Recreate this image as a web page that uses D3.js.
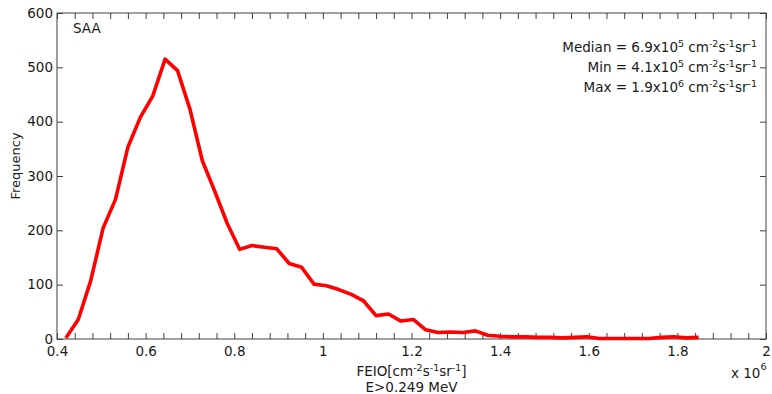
<!DOCTYPE html>
<html>
<head>
<meta charset="utf-8">
<script src="https://cdn.jsdelivr.net/npm/d3@7"></script>
<style>
  html, body { margin: 0; padding: 0; background: #fff; }
  svg text { font-family: "DejaVu Sans", "Liberation Sans", Arial, sans-serif; fill: #1a1a1a; }
</style>
</head>
<body>
<div id="chart"></div>
<script>
"use strict";

// ---------------------------------------------------------------------------
// Data (FEIO in units of 10^6, frequency counts)
// ---------------------------------------------------------------------------

const feio = [
  0.420, 0.448, 0.476, 0.504, 0.532, 0.560, 0.588, 0.616, 0.644, 0.672,
  0.700, 0.728, 0.756, 0.784, 0.812, 0.840, 0.868, 0.896, 0.924, 0.952,
  0.980, 1.008, 1.036, 1.064, 1.092, 1.120, 1.148, 1.176, 1.204, 1.232,
  1.260, 1.288, 1.316, 1.344, 1.372, 1.400, 1.428, 1.456, 1.484, 1.512,
  1.540, 1.568, 1.596, 1.624, 1.652, 1.680, 1.708, 1.736, 1.764, 1.792,
  1.820, 1.848
];

const frequency = [
  2, 36, 107, 204, 257, 353, 408, 447, 515, 494,
  423, 328, 272, 213, 165, 172, 169, 166, 139, 132,
  101, 98, 91, 82, 70, 43, 46, 33, 36, 17,
  12, 13, 12, 15, 7, 5, 4, 4, 3, 3,
  2, 3, 4, 1, 1, 1, 1, 1, 3, 4,
  2, 3
];

const xTicks = [0.4, 0.6, 0.8, 1, 1.2, 1.4, 1.6, 1.8, 2];
const xMinorTicks = d3.range(0, 41).map((i) => 0.4 + i * 0.04);
const yTicks = [0, 100, 200, 300, 400, 500, 600];

const statLines = [
  { label: "Median = 6.9x10", exp: "5" },
  { label: "Min = 4.1x10", exp: "5" },
  { label: "Max = 1.9x10", exp: "6" }
];

// ---------------------------------------------------------------------------
// Layout
// ---------------------------------------------------------------------------

const width = 772;
const height = 394;
const plotL = 57, plotR = 766, plotT = 13, plotB = 339;
const axisColor = "#404040";
const fontSize = "13.5px";
const supSize = "9.5px";

const svg = d3.select("#chart")
  .append("svg")
  .attr("width", width)
  .attr("height", height);

const x = d3.scaleLinear().domain([0.4, 2]).range([plotL, plotR]);
const y = d3.scaleLinear().domain([0, 600]).range([plotB, plotT]);

// ---------------------------------------------------------------------------
// Axes (ticks pointing inward, box all round)
// ---------------------------------------------------------------------------

function fmtX(d) {
  return d === 1 || d === 2 ? String(d) : d3.format(".1f")(d);
}

const tickLen = 6;

// bottom
svg.append("g")
  .attr("transform", `translate(0,${plotB})`)
  .call(d3.axisBottom(x).tickValues(xMinorTicks).tickSize(-tickLen).tickFormat(""))
  .call((g) => g.select(".domain").remove())
  .call((g) => g.selectAll("line").attr("stroke", axisColor));

svg.append("g")
  .attr("transform", `translate(0,${plotB})`)
  .call(d3.axisBottom(x).tickValues(xTicks).tickSize(0).tickPadding(7).tickFormat(fmtX))
  .call((g) => g.select(".domain").remove())
  .call((g) => g.selectAll("text").attr("font-size", fontSize).attr("fill", "#1a1a1a"));

// top
svg.append("g")
  .attr("transform", `translate(0,${plotT})`)
  .call(d3.axisTop(x).tickValues(xMinorTicks).tickSize(-tickLen).tickFormat(""))
  .call((g) => g.select(".domain").remove())
  .call((g) => g.selectAll("line").attr("stroke", axisColor));

// left
svg.append("g")
  .attr("transform", `translate(${plotL},0)`)
  .call(d3.axisLeft(y).tickValues(yTicks).tickSize(-tickLen).tickPadding(4))
  .call((g) => g.select(".domain").remove())
  .call((g) => g.selectAll("line").attr("stroke", axisColor))
  .call((g) => g.selectAll("text").attr("font-size", fontSize).attr("fill", "#1a1a1a"));

// right
svg.append("g")
  .attr("transform", `translate(${plotR},0)`)
  .call(d3.axisRight(y).tickValues(yTicks).tickSize(-tickLen).tickFormat(""))
  .call((g) => g.select(".domain").remove())
  .call((g) => g.selectAll("line").attr("stroke", axisColor));

svg.append("rect")
  .attr("x", plotL)
  .attr("y", plotT)
  .attr("width", plotR - plotL)
  .attr("height", plotB - plotT)
  .attr("fill", "none")
  .attr("stroke", axisColor)
  .attr("stroke-width", 1);

// ---------------------------------------------------------------------------
// Curve
// ---------------------------------------------------------------------------

const points = feio.map((v, i) => [v, frequency[i]]);

svg.append("path")
  .datum(points)
  .attr("fill", "none")
  .attr("stroke", "#ff0000")
  .attr("stroke-width", 3.6)
  .attr("stroke-linejoin", "round")
  .attr("d", d3.line().x((d) => x(d[0])).y((d) => y(d[1])));

// ---------------------------------------------------------------------------
// Labels
// ---------------------------------------------------------------------------

svg.append("text")
  .attr("x", 73)
  .attr("y", 33)
  .attr("font-size", fontSize)
  .text("SAA");

// superscript helper: base text, then raised exponent
function sup(sel, base, exp, dyBase, rise = 5) {
  sel.append("tspan").attr("dy", dyBase).text(base);
  sel.append("tspan").attr("dy", -rise).attr("font-size", supSize).text(exp);
}

statLines.forEach((s, i) => {
  const t = svg.append("text")
    .attr("x", 757)
    .attr("y", 52 + i * 20)
    .attr("text-anchor", "end")
    .attr("font-size", fontSize);
  sup(t, s.label, s.exp, 0);
  sup(t, " cm", "-2", 5);
  sup(t, "s", "-1", 5);
  sup(t, "sr", "-1", 5);
});

const xl = svg.append("text")
  .attr("x", (plotL + plotR) / 2)
  .attr("y", 376)
  .attr("text-anchor", "middle")
  .attr("font-size", fontSize);
sup(xl, "FEIO[cm", "-2", 0);
sup(xl, "s", "-1", 5);
sup(xl, "sr", "-1", 5);
xl.append("tspan").attr("dy", 5).text("]");

svg.append("text")
  .attr("x", (plotL + plotR) / 2)
  .attr("y", 392)
  .attr("text-anchor", "middle")
  .attr("font-size", fontSize)
  .text("E>0.249 MeV");

const xm = svg.append("text")
  .attr("x", 731)
  .attr("y", 378)
  .attr("font-size", fontSize);
sup(xm, "x 10", "6", 0, 8);

svg.append("text")
  .attr("transform", `translate(20,166) rotate(-90)`)
  .attr("text-anchor", "middle")
  .attr("font-family", "'Liberation Sans', Arial, sans-serif")
  .attr("font-size", "13px")
  .text("Frequency");
</script>
</body>
</html>
